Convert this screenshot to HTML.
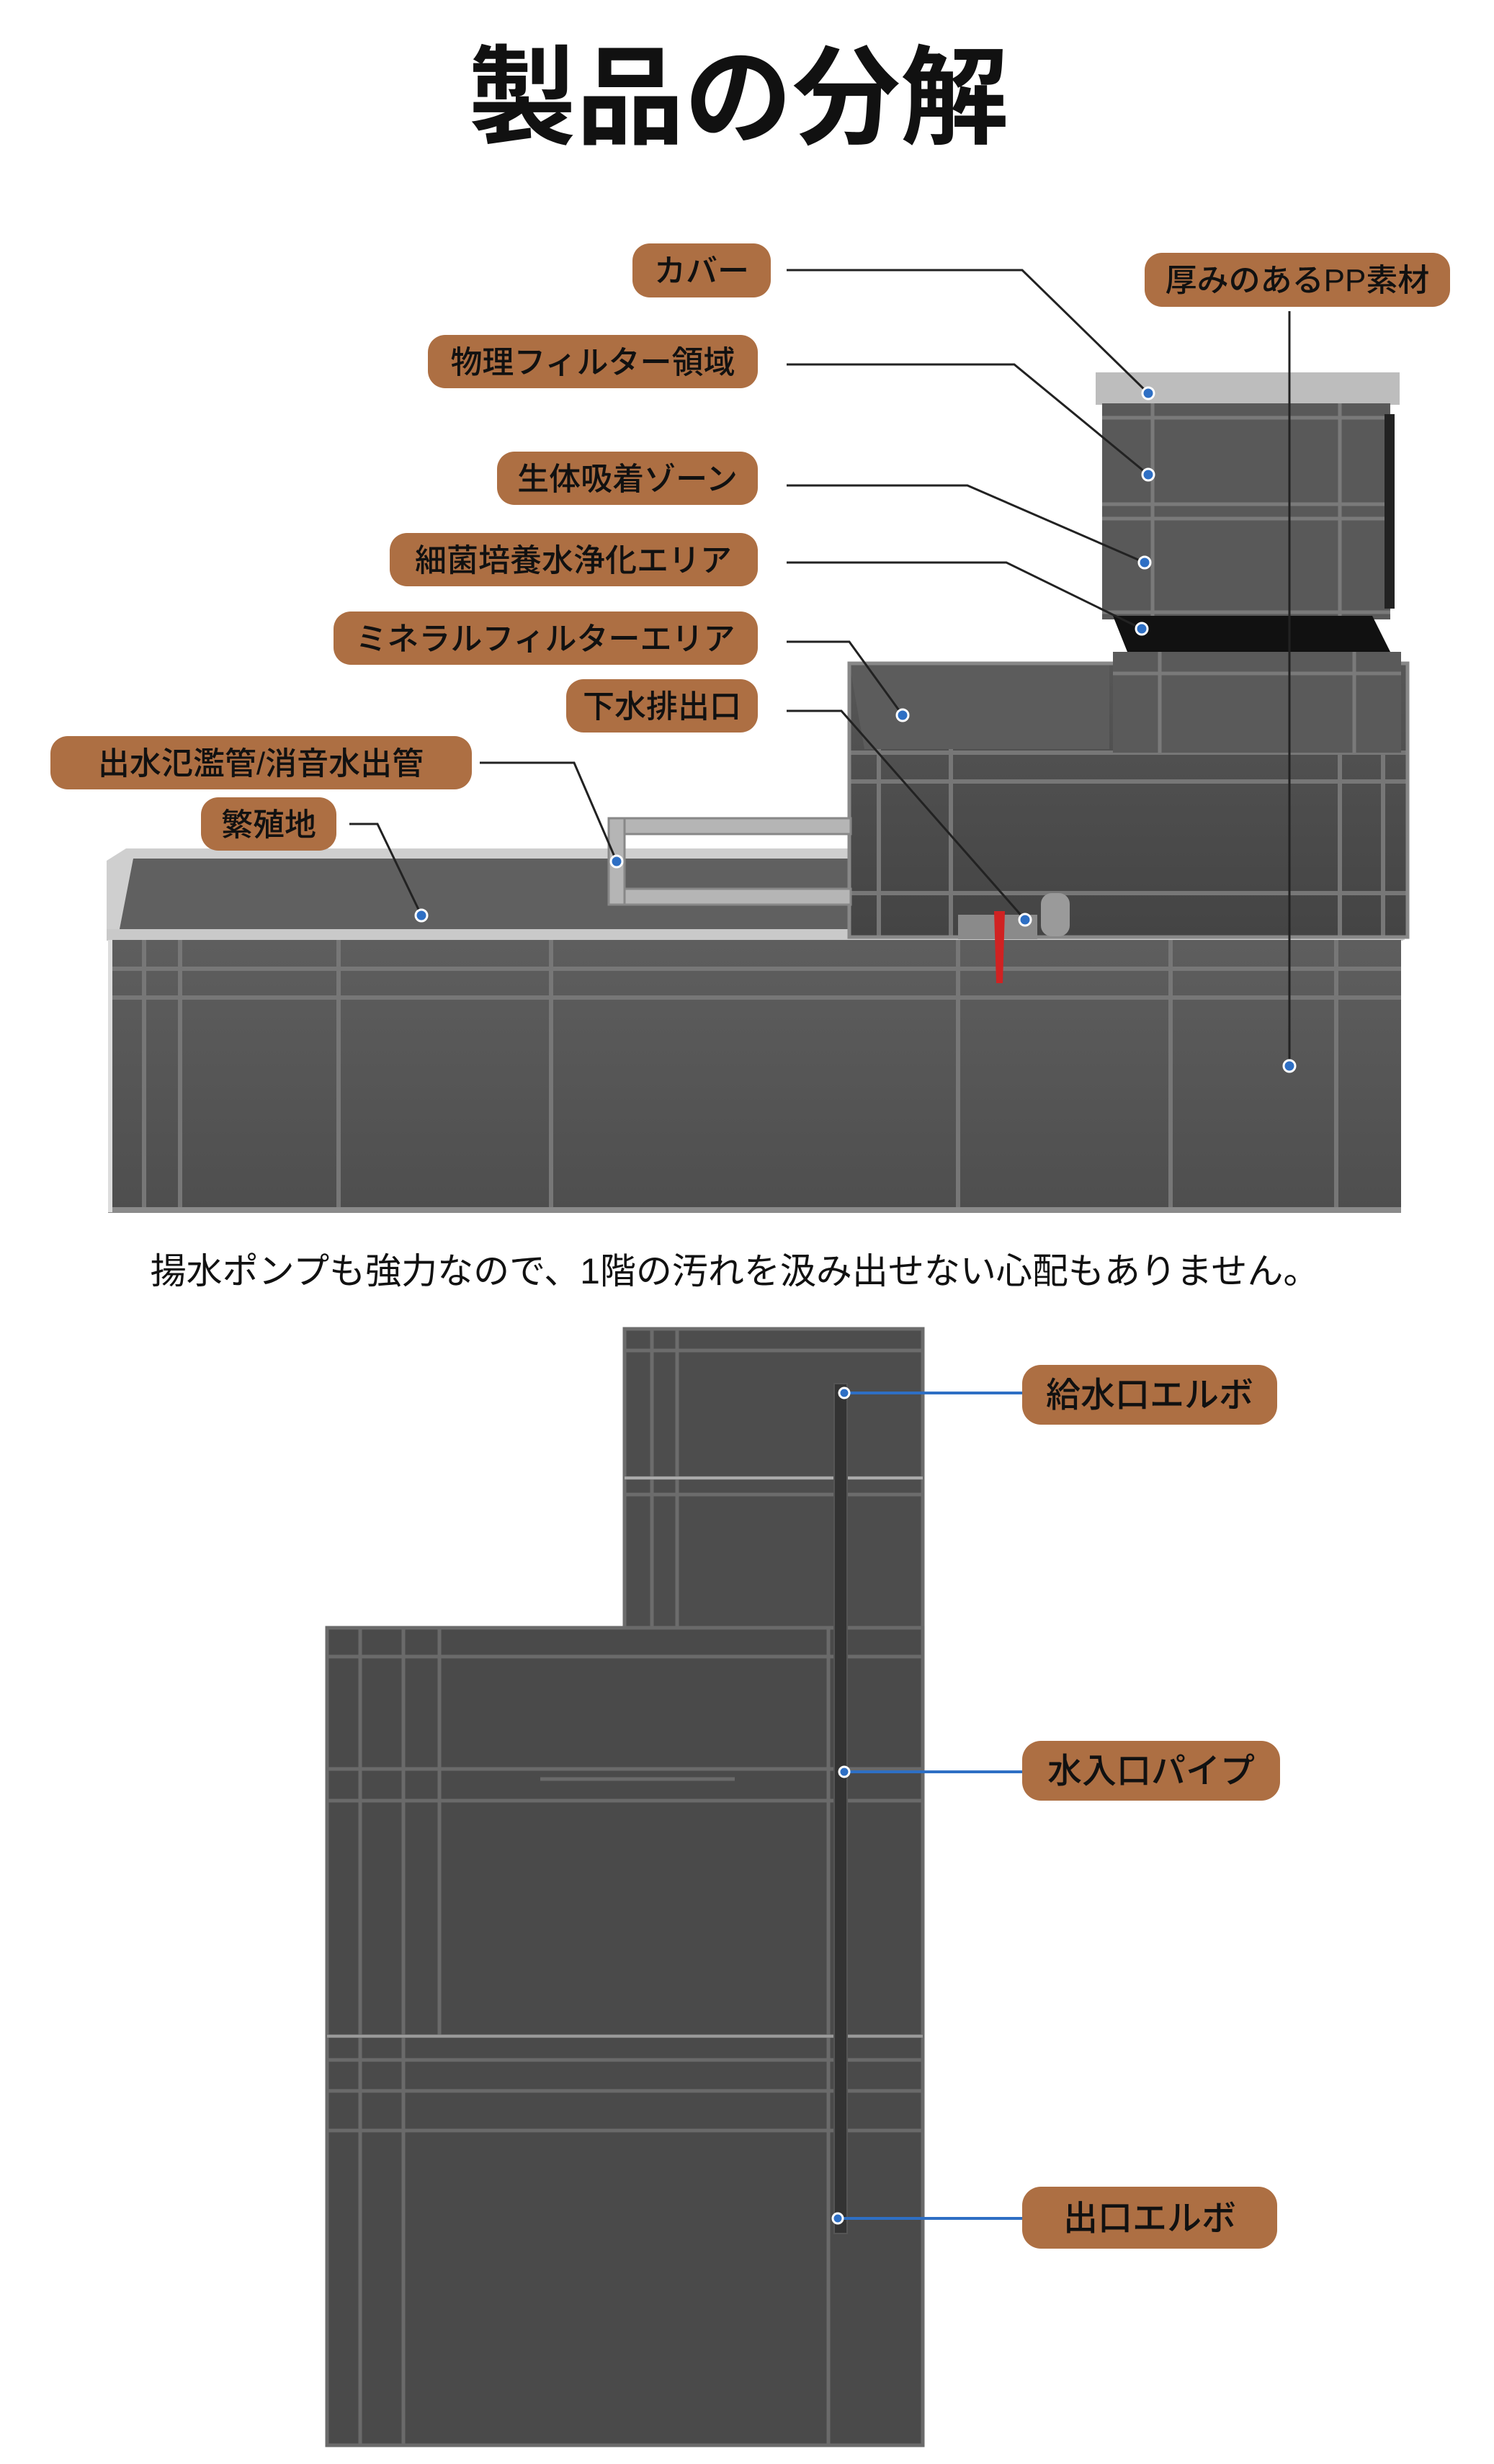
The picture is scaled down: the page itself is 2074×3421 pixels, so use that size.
<!DOCTYPE html>
<html><head><meta charset="utf-8"><style>
html,body{margin:0;padding:0;background:#fff}
svg{display:block}
text{font-family:"Liberation Sans","Noto Sans CJK JP",sans-serif}
</style></head><body>
<svg width="2074" height="3421" viewBox="0 0 2074 3421" xmlns="http://www.w3.org/2000/svg">
<defs>
<linearGradient id="g1" x1="0" y1="0" x2="0" y2="1"><stop offset="0" stop-color="#5e5e5e"/><stop offset="1" stop-color="#4e4e4e"/></linearGradient>
<linearGradient id="g2" x1="0" y1="0" x2="0" y2="1"><stop offset="0" stop-color="#565656"/><stop offset="1" stop-color="#444"/></linearGradient>
</defs>
<rect width="2074" height="3421" fill="#fff"/>
<text x="1025" y="188" font-size="150" text-anchor="middle" fill="#111" font-weight="bold">製品の分解</text>

<!-- big lower tank -->
<path d="M148 1195 L175 1178 L1940 1178 L1950 1305 L148 1305 Z" fill="#cfcfcf"/>
<path d="M185 1192 L1935 1192 L1935 1295 L165 1295 Z" fill="#606060"/>
<rect x="148" y="1290" width="1800" height="16" fill="#c9c9c9"/>
<rect x="150" y="1305" width="1795" height="378" fill="url(#g1)"/>
<g stroke="#777" stroke-width="6" fill="none">
<line x1="150" y1="1345" x2="1945" y2="1345"/><line x1="150" y1="1385" x2="1945" y2="1385"/>
<line x1="200" y1="1305" x2="200" y2="1680"/><line x1="250" y1="1305" x2="250" y2="1680"/>
<line x1="470" y1="1305" x2="470" y2="1680"/><line x1="765" y1="1305" x2="765" y2="1680"/>
<line x1="1330" y1="1305" x2="1330" y2="1680"/><line x1="1625" y1="1305" x2="1625" y2="1680"/>
<line x1="1855" y1="1305" x2="1855" y2="1680"/>
</g>
<rect x="150" y="1676" width="1795" height="8" fill="#8a8a8a"/>
<rect x="150" y="1305" width="6" height="378" fill="#ddd"/>

<!-- middle tank -->
<rect x="1179" y="921" width="775" height="380" fill="url(#g2)"/>
<path d="M1179 921 L1540 921 L1540 1040 L1200 1040 Z" fill="#5c5c5c"/>
<g stroke="#777" stroke-width="6" fill="none">
<line x1="1179" y1="1045" x2="1954" y2="1045"/><line x1="1179" y1="1085" x2="1954" y2="1085"/>
<line x1="1220" y1="1040" x2="1220" y2="1300"/><line x1="1320" y1="1040" x2="1320" y2="1300"/>
<line x1="1860" y1="1040" x2="1860" y2="1300"/><line x1="1920" y1="1040" x2="1920" y2="1300"/>
<line x1="1179" y1="1240" x2="1954" y2="1240"/>
</g>
<rect x="1179" y="921" width="775" height="380" fill="none" stroke="#888" stroke-width="5"/>

<!-- small stack -->
<rect x="1521" y="517" width="422" height="45" fill="#bdbdbd"/>
<rect x="1530" y="560" width="400" height="300" fill="#595959"/>
<g stroke="#7a7a7a" stroke-width="5" fill="none">
<line x1="1530" y1="580" x2="1930" y2="580"/><line x1="1530" y1="700" x2="1930" y2="700"/>
<line x1="1530" y1="720" x2="1930" y2="720"/><line x1="1530" y1="850" x2="1930" y2="850"/>
<line x1="1600" y1="560" x2="1600" y2="860"/><line x1="1860" y1="560" x2="1860" y2="860"/>
</g>
<path d="M1545 855 L1905 855 L1930 905 L1565 905 Z" fill="#111"/>
<rect x="1545" y="905" width="400" height="140" fill="#5a5a5a"/>
<g stroke="#7a7a7a" stroke-width="5" fill="none">
<line x1="1545" y1="935" x2="1945" y2="935"/><line x1="1610" y1="905" x2="1610" y2="1045"/><line x1="1880" y1="905" x2="1880" y2="1045"/>
</g>
<rect x="1922" y="575" width="14" height="270" fill="#222"/>

<!-- overflow pipes -->
<g fill="#b5b5b5" stroke="#888" stroke-width="3">
<rect x="851" y="1136" width="330" height="22"/><rect x="851" y="1234" width="330" height="22"/>
<rect x="845" y="1136" width="22" height="120"/>
</g>
<!-- valve -->
<rect x="1330" y="1270" width="110" height="34" fill="#8a8a8a"/>
<rect x="1445" y="1240" width="40" height="60" rx="15" fill="#9a9a9a"/>
<path d="M1380 1265 L1395 1265 L1392 1365 L1383 1365 Z" fill="#d02222"/>

<!-- leader lines -->
<g stroke="#222" stroke-width="3" fill="none">
<polyline points="1092,375 1419,375 1594,546"/>
<polyline points="1092,506 1408,506 1594,659"/>
<polyline points="1092,674 1343,674 1589,781"/>
<polyline points="1092,781 1397,781 1585,873"/>
<polyline points="1092,891 1179,891 1253,993"/>
<polyline points="1092,987 1168,987 1423,1277"/>
<polyline points="666,1059 797,1059 856,1196"/>
<polyline points="485,1144 524,1144 585,1271"/>
<line x1="1790" y1="432" x2="1790" y2="1480"/>
</g>
<g fill="#2e6fc4" stroke="#fff" stroke-width="3">
<circle cx="1594" cy="546" r="8"/><circle cx="1594" cy="659" r="8"/><circle cx="1589" cy="781" r="8"/>
<circle cx="1585" cy="873" r="8"/><circle cx="1253" cy="993" r="8"/><circle cx="1423" cy="1277" r="8"/>
<circle cx="856" cy="1196" r="8"/><circle cx="585" cy="1271" r="8"/><circle cx="1790" cy="1480" r="8"/>
</g>

<!-- labels -->
<g fill="#ad6f43">
<rect x="878" y="338" width="192" height="75" rx="24"/>
<rect x="594" y="465" width="458" height="74" rx="24"/>
<rect x="690" y="627" width="362" height="74" rx="24"/>
<rect x="541" y="740" width="511" height="74" rx="24"/>
<rect x="463" y="849" width="589" height="74" rx="24"/>
<rect x="786" y="943" width="266" height="74" rx="24"/>
<rect x="70" y="1022" width="585" height="74" rx="24"/>
<rect x="279" y="1107" width="188" height="74" rx="24"/>
<rect x="1589" y="351" width="424" height="75" rx="24"/>
</g>
<g font-size="44" fill="#111" text-anchor="middle" font-weight="500">
<text x="974" y="391">カバー</text>
<text x="823" y="518">物理フィルター領域</text>
<text x="871" y="680">生体吸着ゾーン</text>
<text x="796" y="793">細菌培養水浄化エリア</text>
<text x="757" y="902">ミネラルフィルターエリア</text>
<text x="919" y="996">下水排出口</text>
<text x="362" y="1075">出水氾濫管/消音水出管</text>
<text x="373" y="1160">繁殖地</text>
<text x="1801" y="404">厚みのあるPP素材</text>
</g>

<text x="1020" y="1782" font-size="50" text-anchor="middle" fill="#111">揚水ポンプも強力なので、1階の汚れを汲み出せない心配もありません。</text>

<!-- bottom section -->
<rect x="867" y="1845" width="414" height="415" fill="#4d4d4d"/>
<g stroke="#6c6c6c" stroke-width="5" fill="none">
<rect x="867" y="1845" width="414" height="415"/>
<line x1="867" y1="1875" x2="1281" y2="1875"/><line x1="867" y1="2052" x2="1281" y2="2052"/>
<line x1="867" y1="2075" x2="1281" y2="2075"/><line x1="905" y1="1845" x2="905" y2="2260"/>
<line x1="940" y1="1845" x2="940" y2="2260"/>
</g>
<line x1="867" y1="2052" x2="1281" y2="2052" stroke="#aaa" stroke-width="4"/>
<rect x="454" y="2260" width="827" height="1135" fill="#4a4a4a"/>
<g stroke="#6a6a6a" stroke-width="5" fill="none">
<rect x="454" y="2260" width="827" height="1135"/>
<line x1="454" y1="2300" x2="1281" y2="2300"/>
<line x1="454" y1="2456" x2="1281" y2="2456"/><line x1="454" y1="2500" x2="1281" y2="2500"/>
<line x1="454" y1="2827" x2="1281" y2="2827"/><line x1="454" y1="2860" x2="1281" y2="2860"/>
<line x1="454" y1="2903" x2="1281" y2="2903"/><line x1="454" y1="2958" x2="1281" y2="2958"/>
<line x1="500" y1="2260" x2="500" y2="3395"/><line x1="560" y1="2260" x2="560" y2="3395"/>
<line x1="610" y1="2260" x2="610" y2="2827"/><line x1="1150" y1="2260" x2="1150" y2="3395"/>
<line x1="750" y1="2470" x2="1020" y2="2470"/>
</g>
<line x1="454" y1="2827" x2="1281" y2="2827" stroke="#999" stroke-width="4"/>
<rect x="1158" y="1921" width="18" height="1180" fill="#333" stroke="#555" stroke-width="2"/>
<g stroke="#2e6fc4" stroke-width="4">
<line x1="1172" y1="1934" x2="1419" y2="1934"/>
<line x1="1172" y1="2460" x2="1419" y2="2460"/>
<line x1="1163" y1="3080" x2="1419" y2="3080"/>
</g>
<g fill="#2e6fc4" stroke="#fff" stroke-width="3">
<circle cx="1172" cy="1934" r="7"/><circle cx="1172" cy="2460" r="7"/><circle cx="1163" cy="3080" r="7"/>
</g>
<g fill="#ad6f43">
<rect x="1419" y="1895" width="354" height="83" rx="26"/>
<rect x="1419" y="2417" width="358" height="83" rx="26"/>
<rect x="1419" y="3036" width="354" height="86" rx="26"/>
</g>
<g font-size="48" fill="#111" text-anchor="middle" font-weight="500">
<text x="1596" y="1953">給水口エルボ</text>
<text x="1598" y="2475">水入口パイプ</text>
<text x="1596" y="3096">出口エルボ</text>
</g>
</svg>
</body></html>
